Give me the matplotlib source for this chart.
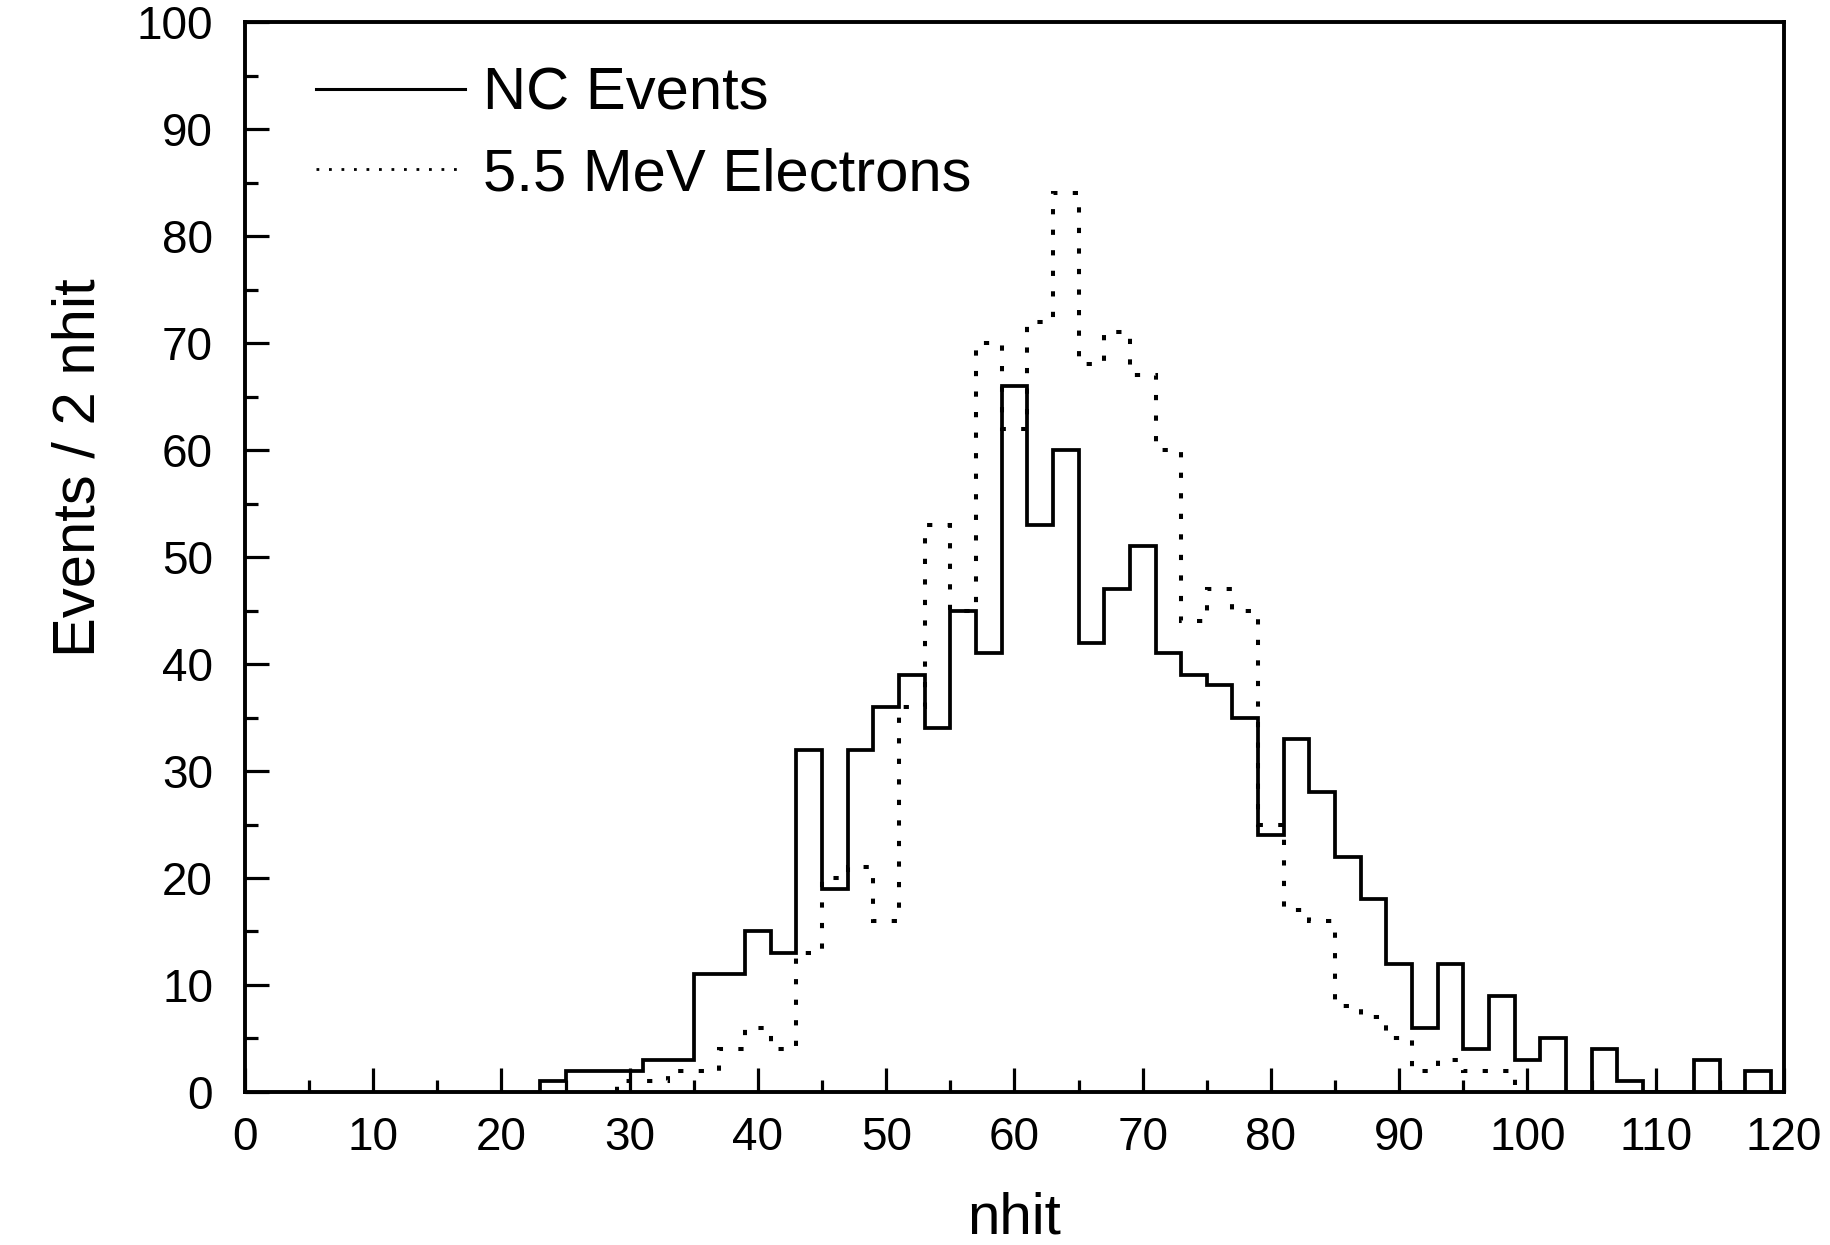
import matplotlib
matplotlib.use('Agg')
import matplotlib.pyplot as plt
from matplotlib.lines import Line2D
from matplotlib.ticker import MultipleLocator
import numpy as np

plt.rcParams['font.family'] = ['Liberation Sans', 'DejaVu Sans']

# histograms use 2-nhit bins on odd edges
bin_width = 2

# NC events: first bin starts at nhit 23
nc_first_edge = 23
nc_counts = [1, 2, 2, 2, 3, 3, 11, 11, 15, 13, 32, 19, 32, 36, 39, 34,
             45, 41, 66, 53, 60, 42, 47, 51, 41, 39, 38, 35, 24, 33, 28, 22,
             18, 12, 6, 12, 4, 9, 3, 5, 0, 4, 1, 0, 0, 3, 0, 2]

# 5.5 MeV electrons: first bin starts at nhit 29
e_first_edge = 29
e_counts = [1, 1, 2, 2, 4, 6, 4, 13, 20, 21, 16, 36, 53, 45, 70, 62,
            72, 84, 68, 71, 67, 60, 44, 47, 45, 25, 17, 16, 8, 7, 5, 2,
            3, 2, 2]

labels = ['NC Events', '5.5 MeV Electrons']

nc_edges = nc_first_edge + bin_width * np.arange(len(nc_counts) + 1)
e_edges = e_first_edge + bin_width * np.arange(len(e_counts) + 1)

fig = plt.figure(figsize=(18.31, 12.45), dpi=100)
ax = fig.add_axes([0.1338, 0.1229, 0.8405, 0.8594])

dot_style = (0, (1.3, 3.8))
ax.stairs(nc_counts, nc_edges, color='black', linewidth=2.7)
ax.stairs(e_counts, e_edges, color='black', linewidth=2.9, linestyle=dot_style)

ax.set_xlim(0, 120)
ax.set_ylim(0, 100)
ax.xaxis.set_major_locator(MultipleLocator(10))
ax.xaxis.set_minor_locator(MultipleLocator(5))
ax.yaxis.set_major_locator(MultipleLocator(10))
ax.yaxis.set_minor_locator(MultipleLocator(5))
ax.tick_params(which='both', direction='in', width=2.3, top=False, right=False)
ax.tick_params(which='major', length=17)
ax.tick_params(which='minor', length=9)
ax.tick_params(axis='x', which='major', labelsize=33, pad=17)
ax.tick_params(axis='y', which='major', labelsize=33, pad=23)
for s in ax.spines.values():
    s.set_linewidth(2.8)

ax.set_xlabel('nhit', fontsize=42)
ax.set_ylabel('Events / 2 nhit', fontsize=43)
ax.xaxis.set_label_coords(0.5, -0.093)
ax.yaxis.set_label_coords(-0.09, 0.584)

# legend samples: solid line and fine dots
handles = [Line2D([], [], color='black', linewidth=2.2),
           Line2D([], [], color='black', linewidth=2.0, linestyle=(0, (1, 3.5)))]
ax.legend(handles, labels, loc='upper left', bbox_to_anchor=(0.046, 0.958),
          frameon=False, fontsize=43, handlelength=2.5, handletextpad=0.3,
          labelspacing=0.42, borderpad=0, borderaxespad=0)

fig.savefig('out.png', dpi=100)
